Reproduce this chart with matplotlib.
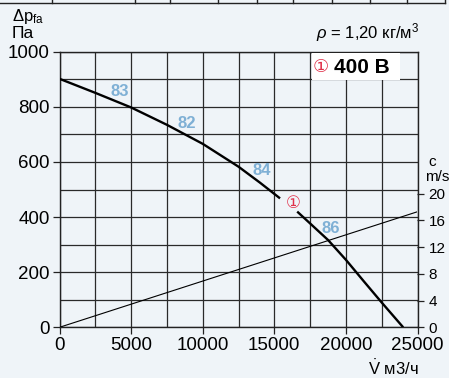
import matplotlib.pyplot as plt
from matplotlib.lines import Line2D
from matplotlib.patches import Rectangle

plt.rcParams['font.family'] = ['Liberation Sans', 'DejaVu Sans']
plt.rcParams['mathtext.fontset'] = 'custom'
plt.rcParams['mathtext.rm'] = 'Liberation Sans'
plt.rcParams['mathtext.it'] = 'Liberation Sans:italic'

# fan curve (V m3/h, dp Pa)
flow_a = [0, 2500, 5000, 7500, 10000, 12500, 14000, 15400]
dp_a = [902, 851, 798, 735, 666, 583, 525, 468]
flow_b = [16600, 17500, 18750, 20000, 21250, 22500, 24000]
dp_b = [420, 377, 317, 245, 167, 90, 0]

# outlet velocity line (right axis, m/s)
vel_flow = [0, 25000]
vel_c = [0, 17.3]

# efficiency labels
eff_labels = ['83', '82', '84', '86']
eff_x = [4190, 8890, 14150, 18970]
eff_y = [857, 739, 568, 360]

bg = '#eff4f8'
fig = plt.figure(figsize=(4.49, 3.78), dpi=100, facecolor=bg)
ax = fig.add_axes([59.5 / 449, 1 - 327.3 / 378, 358 / 449, 275.5 / 378])
ax.set_facecolor(bg)

ax.set_xlim(0, 25000)
ax.set_ylim(0, 1000)
ax.set_xticks(range(0, 25001, 5000))
ax.set_yticks(range(0, 1001, 200))
ax.set_xticks(range(0, 25001, 2500), minor=True)
ax.set_yticks(range(0, 1001, 100), minor=True)
ax.grid(which='both', color='#2a2a2a', lw=0.9)
ax.tick_params(which='minor', length=0)
ax.tick_params(which='major', length=5, width=0.9, labelsize=13.5, color='#222222', pad=2)
for s in ax.spines.values():
    s.set_color('#222222')
    s.set_linewidth(1.0)

ax.plot(flow_a, dp_a, color='black', lw=1.7, solid_capstyle='butt', zorder=3)
ax.plot(flow_b, dp_b, color='black', lw=1.7, solid_capstyle='butt', zorder=3)

for t, x, y in zip(eff_labels, eff_x, eff_y):
    ax.text(x, y, t, color='#7fb0d5', fontsize=12, fontweight='bold', ha='center', va='center', zorder=4)
ax.text(16290, 451, '\u2460', color='#e0304a', fontsize=12, ha='center', va='center',
        family=['DejaVu Sans'], zorder=4)

# name box
ax.add_patch(Rectangle((17600, 897), 6150, 97, fc='white', ec='none', zorder=4))
ax.text(18230, 944, '\u2460', color='#e0304a', fontsize=13, ha='center', va='center',
        family=['DejaVu Sans'], zorder=5)
ax.text(19200, 944, '400 B', fontsize=15, fontweight='bold', ha='left', va='center', zorder=5)

ax2 = ax.twinx()
ax2.set_ylim(0, 1000 / 24.25)
ax2.set_yticks(range(0, 21, 4))
ax2.tick_params(length=5, width=0.9, labelsize=11, color='#222222', pad=3)
for s in ax2.spines.values():
    s.set_visible(False)
ax2.plot(vel_flow, vel_c, color='black', lw=0.8, zorder=2)
ax2.text(1.03, 0.60, 'c', transform=ax.transAxes, fontsize=11, ha='left', va='center')
ax2.text(1.02, 0.545, 'm/s', transform=ax.transAxes, fontsize=11, ha='left', va='center')

fig.text(12 / 449, 1 - 16 / 378, r'$\Delta\mathregular{p_{fa}}$', fontsize=12, ha='left', va='center')
fig.text(12 / 449, 1 - 33 / 378, 'Па', fontsize=12.5, ha='left', va='center')
fig.text(419 / 449, 1 - 33 / 378, r'$\rho$ = 1,20 кг/м$^\mathregular{3}$', fontsize=12, ha='right', va='center')
fig.text(419 / 449, 1 - 368 / 378, r'$\dot{\mathregular{V}}$ м3/ч', fontsize=12, ha='right', va='center')

# cropped table edge at the very top
fig.add_artist(Line2D([0, 445 / 449], [1 - 3 / 378] * 2, color='#222222', lw=1))
for px in [52, 135, 170, 218, 257, 293, 332, 370, 407, 445]:
    fig.add_artist(Line2D([px / 449] * 2, [1 - 3 / 378, 1], color='#222222', lw=1))

fig.savefig('out.png', dpi=100, facecolor=bg)
